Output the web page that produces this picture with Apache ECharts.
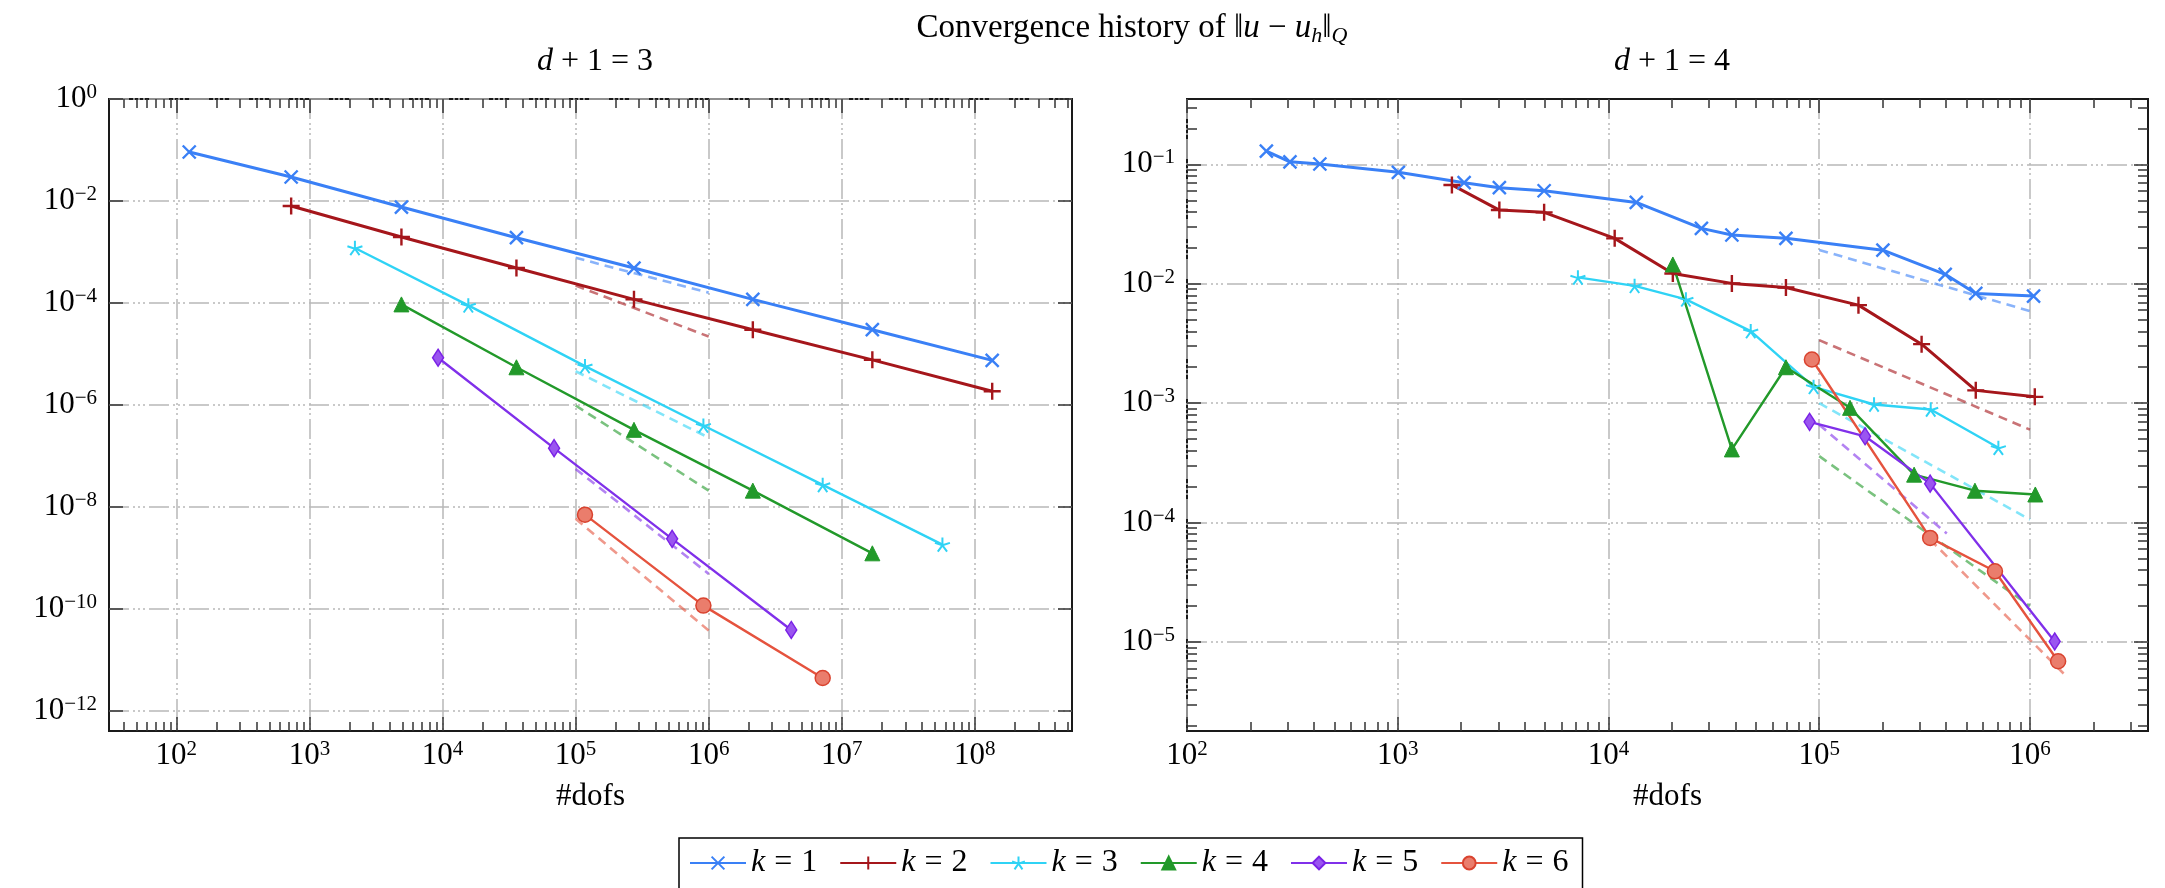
<!DOCTYPE html>
<html><head><meta charset="utf-8">
<script src="https://cdn.jsdelivr.net/npm/echarts@6/dist/echarts.min.js"></script>
<style>html,body{margin:0;padding:0;background:#fff}#c{width:2165px;height:888px}</style>
</head><body><div id="c"></div>
<script>
// ---------- data: d+1 = 3 (left panel) ----------
const dofs3_k1 = [125, 729, 4913, 35937, 274625, 2146689, 16974593, 135005697];
const err3_k1  = [0.0914, 0.0296, 0.00762, 0.00191, 4.85e-4, 1.18e-4, 3.0e-5, 7.5e-6];
const dofs3_k2 = [729, 4913, 35937, 274625, 2146689, 16974593, 135005697];
const err3_k2  = [7.98e-3, 1.97e-3, 4.85e-4, 1.18e-4, 3.0e-5, 7.7e-6, 1.87e-6];
const dofs3_k3 = [2197, 15625, 117649, 912673, 7189057, 57066625];
const err3_k3  = [1.2e-3, 9.0e-5, 5.8e-6, 3.97e-7, 2.72e-8, 1.84e-9];
const dofs3_k4 = [4913, 35937, 274625, 2146689, 16974593];
const err3_k4  = [9.4e-5, 5.5e-6, 3.27e-7, 2.1e-8, 1.24e-9];
const dofs3_k5 = [9261, 68921, 531441, 4173281];
const err3_k5  = [8.45e-6, 1.43e-7, 2.38e-9, 3.9e-11];
const dofs3_k6 = [117649, 912673, 7189057];
const err3_k6  = [7.1e-9, 1.17e-10, 4.45e-12];
// reference-rate (dashed) lines, left panel
const refX3    = [1e5, 1e6];
const ref3_k1  = [7.7e-4, 1.6e-4];
const ref3_k2  = [2.2e-4, 2.2e-5];
const ref3_k3  = [4.6e-6, 2.3e-7];
const ref3_k4  = [9.8e-7, 2.1e-8];
const ref3_k5  = [5.6e-8, 4.9e-10];
const ref3_k6  = [5.9e-9, 3.8e-11];

// ---------- data: d+1 = 4 (right panel) ----------
const dofs4_k1 = [238, 308, 427, 1007, 2065, 3035, 4950, 13550, 27600, 38500, 69500, 200500, 396000, 553000, 1040000];
const err4_k1  = [0.129, 0.105, 0.1006, 0.0857, 0.0702, 0.0637, 0.0601, 0.048, 0.0291, 0.0256, 0.024, 0.0191, 0.012, 0.0083, 0.00788];
const dofs4_k2 = [1807, 3035, 4950, 10700, 20200, 38500, 69500, 153500, 306000, 553000, 1054000];
const err4_k2  = [0.0672, 0.0414, 0.0396, 0.024, 0.0122, 0.01007, 0.0093, 0.00662, 0.00312, 0.00128, 0.00113];
const dofs4_k3 = [7160, 13300, 23300, 47300, 94000, 182000, 338000, 708000];
const err4_k3  = [0.0113, 0.0096, 0.0074, 0.00401, 0.00137, 9.75e-4, 8.86e-4, 4.23e-4];
const dofs4_k4 = [20200, 38500, 69500, 140000, 282000, 548000, 1060000];
const err4_k4  = [0.0145, 4.1e-4, 2.0e-3, 9.14e-4, 2.52e-4, 1.85e-4, 1.72e-4];
const dofs4_k5 = [90000, 165000, 336000, 1310000];
const err4_k5  = [6.98e-4, 5.28e-4, 2.12e-4, 1.01e-5];
const dofs4_k6 = [92300, 336000, 682000, 1360000];
const err4_k6  = [2.32e-3, 7.44e-5, 3.91e-5, 6.9e-6];
// reference-rate (dashed) lines, right panel
const refX4_k1 = [1e5, 1e6];      const ref4_k1 = [0.0192, 0.0059];
const refX4_k2 = [1e5, 1e6];      const ref4_k2 = [0.00337, 6.0e-4];
const refX4_k3 = [1e5, 1e6];      const ref4_k3 = [1.0e-3, 1.06e-4];
const refX4_k4 = [1e5, 1e6];      const ref4_k4 = [3.6e-4, 2.0e-5];
const refX4_k5 = [1e5, 4.03e5];   const ref4_k5 = [6.6e-4, 8.1e-5];
const refX4_k6 = [3.36e5, 1.49e6];const ref4_k6 = [7.2e-5, 5.15e-6];

// ---------- labels ----------
const legendNames = ['k = 1', 'k = 2', 'k = 3', 'k = 4', 'k = 5', 'k = 6'];
const titleText = 'Convergence history of ‖u − u_h‖_Q';
const panelTitles = ['d + 1 = 3', 'd + 1 = 4'];
const xAxisName = '#dofs';

// ---------- styling ----------
const FONT = 'Liberation Serif, DejaVu Serif, serif';
const X_PATH = 'path://M0,0L10,10M10,0L0,10';
const PLUS_PATH = 'path://M5,0L5,10M0,5L10,5';
const STAR_PATH = 'path://M5,5L5,0M5,5L9.755,3.455M5,5L7.939,9.045M5,5L2.061,9.045M5,5L0.245,3.455';
const styles = [
  {color:'#3a80f6', symbol:X_PATH,    size:13,      width:3.0, fill:'#3a80f6', border:'#3a80f6', bw:2.4},
  {color:'#a5161b', symbol:PLUS_PATH, size:17,      width:3.0, fill:'#a5161b', border:'#a5161b', bw:2.4},
  {color:'#2fd3f5', symbol:STAR_PATH, size:15,      width:2.4, fill:'#2fd3f5', border:'#2fd3f5', bw:2.0},
  {color:'#22992a', symbol:'triangle',size:15,      width:2.4, fill:'#22992a', border:'#22992a', bw:1},
  {color:'#8030ea', symbol:'diamond', size:[11,17], width:2.4, fill:'#9a55f0', border:'#7a22e6', bw:1.5},
  {color:'#e5533e', symbol:'circle',  size:15,      width:2.4, fill:'#ea7d6c', border:'#d9432f', bw:1.5}
];

// axis extents (log10 exponents)
const X3 = [1.494, 8.73], Y3 = [-12.39, 0];
const X4 = [2.0, 6.56],   Y4 = [-5.745, -0.453];

function majors(lo, hi, step) { const o=[]; for (let v=Math.ceil(lo/step)*step; v<=hi+1e-9; v+=step) o.push(v); return o; }
function minors(lo, hi) { const o=[]; for (let d=Math.floor(lo); d<=Math.ceil(hi); d++) for (let m=2; m<=9; m++){ const v=d+Math.log10(m); if (v>lo && v<hi) o.push(v);} return o; }

const gridLine = {color:'#b8b8b8', width:1.5, type:[20,4,2,3,2,3,2,4]};
const tickLine = {color:'#333', width:1.5};
const richLab = {
  b:{fontFamily:FONT, fontSize:31, lineHeight:34, color:'#000', fontWeight:'normal'},
  s:{fontFamily:FONT, fontSize:21, verticalAlign:'top', color:'#000', fontWeight:'normal'}
};
function fmtPow(v){ const n=Math.round(v); const s = n<0 ? '−'+(-n) : ''+n; return '{b|10}{s|'+s+'}'; }

function mainX(gi, ext, step){
  const maj = majors(ext[0], ext[1], step);
  return {type:'value', gridIndex:gi, position:'bottom', min:ext[0], max:ext[1],
    axisLine:{show:false, onZero:false},
    axisTick:{show:true, inside:true, length:14, customValues:maj, lineStyle:tickLine},
    axisLabel:{show:true, customValues:maj, formatter:fmtPow, rich:richLab, margin:8, fontFamily:FONT},
    splitLine:{show:true, lineStyle:gridLine},
    name:xAxisName, nameLocation:'middle', nameGap:50,
    nameTextStyle:{fontFamily:FONT, fontSize:31, color:'#000', fontWeight:'normal'}};
}
function tickAxisX(gi, ext, pos, vals, len){
  return {type:'value', gridIndex:gi, position:pos, min:ext[0], max:ext[1],
    axisLine:{show:false, onZero:false},
    axisTick:{show:true, inside:true, length:len, customValues:vals, lineStyle:tickLine},
    axisLabel:{show:false}, splitLine:{show:false}};
}
function mainY(gi, ext, step){
  const maj = majors(ext[0], ext[1], step);
  return {type:'value', gridIndex:gi, position:'left', min:ext[0], max:ext[1],
    axisLine:{show:false, onZero:false},
    axisTick:{show:true, inside:true, length:14, customValues:maj, lineStyle:tickLine},
    axisLabel:{show:true, customValues:maj, formatter:fmtPow, rich:richLab, margin:12, fontFamily:FONT},
    splitLine:{show:true, lineStyle:gridLine}};
}
function tickAxisY(gi, ext, pos, vals, len){
  return {type:'value', gridIndex:gi, position:pos, min:ext[0], max:ext[1],
    axisLine:{show:false, onZero:false},
    axisTick:{show:true, inside:true, length:len, customValues:vals, lineStyle:tickLine},
    axisLabel:{show:false}, splitLine:{show:false}};
}

const xAxes = [
  mainX(0, X3, 1),
  tickAxisX(0, X3, 'bottom', minors(X3[0], X3[1]), 9),
  tickAxisX(0, X3, 'top', majors(X3[0], X3[1], 1), 14),
  tickAxisX(0, X3, 'top', minors(X3[0], X3[1]), 9),
  mainX(1, X4, 1),
  tickAxisX(1, X4, 'bottom', minors(X4[0], X4[1]), 9),
  tickAxisX(1, X4, 'top', majors(X4[0], X4[1], 1), 14),
  tickAxisX(1, X4, 'top', minors(X4[0], X4[1]), 9)
];
const yAxes = [
  mainY(0, Y3, 2),
  tickAxisY(0, Y3, 'right', majors(Y3[0], Y3[1], 2), 14),
  mainY(1, Y4, 1),
  tickAxisY(1, Y4, 'left', minors(Y4[0], Y4[1]), 10),
  tickAxisY(1, Y4, 'right', majors(Y4[0], Y4[1], 1), 14),
  tickAxisY(1, Y4, 'right', minors(Y4[0], Y4[1]), 10)
];

function toLog(xs, ys){ return xs.map((x,i)=>[Math.log10(x), Math.log10(ys[i])]); }
function solid(k, panel, xs, ys){
  const st = styles[k-1];
  return {type:'line', name:legendNames[k-1], xAxisIndex: panel===0?0:4, yAxisIndex: panel===0?0:2,
    data: toLog(xs, ys), symbol: st.symbol, symbolSize: st.size, symbolKeepAspect:true,
    lineStyle:{color:st.color, width:st.width}, itemStyle:{color:st.fill, borderColor:st.border, borderWidth:st.bw},
    z:3, silent:true};
}
function dashed(k, panel, xs, ys){
  const st = styles[k-1];
  return {type:'line', name:'rate '+k+(panel===0?'a':'b'), xAxisIndex: panel===0?0:4, yAxisIndex: panel===0?0:2,
    data: toLog(xs, ys), symbol:'none',
    lineStyle:{color:st.color, width:2.6, type:[9,6], opacity:0.6}, z:2, silent:true};
}

const series = [
  solid(1,0,dofs3_k1,err3_k1), solid(2,0,dofs3_k2,err3_k2), solid(3,0,dofs3_k3,err3_k3),
  solid(4,0,dofs3_k4,err3_k4), solid(5,0,dofs3_k5,err3_k5), solid(6,0,dofs3_k6,err3_k6),
  dashed(1,0,refX3,ref3_k1), dashed(2,0,refX3,ref3_k2), dashed(3,0,refX3,ref3_k3),
  dashed(4,0,refX3,ref3_k4), dashed(5,0,refX3,ref3_k5), dashed(6,0,refX3,ref3_k6),
  solid(1,1,dofs4_k1,err4_k1), solid(2,1,dofs4_k2,err4_k2), solid(3,1,dofs4_k3,err4_k3),
  solid(4,1,dofs4_k4,err4_k4), solid(5,1,dofs4_k5,err4_k5), solid(6,1,dofs4_k6,err4_k6),
  dashed(1,1,refX4_k1,ref4_k1), dashed(2,1,refX4_k2,ref4_k2), dashed(3,1,refX4_k3,ref4_k3),
  dashed(4,1,refX4_k4,ref4_k4), dashed(5,1,refX4_k5,ref4_k5), dashed(6,1,refX4_k6,ref4_k6)
];

const tRich = {
  n:{fontFamily:FONT, fontSize:33, lineHeight:38, color:'#000', fontWeight:'normal'},
  i:{fontFamily:FONT, fontSize:33, lineHeight:38, fontStyle:'italic', color:'#000', fontWeight:'normal'},
  sub:{fontFamily:FONT, fontSize:22, fontStyle:'italic', verticalAlign:'bottom', color:'#000', fontWeight:'normal'}
};
const pRich = {
  n:{fontFamily:FONT, fontSize:32, lineHeight:38, color:'#000', fontWeight:'normal'},
  i:{fontFamily:FONT, fontSize:32, lineHeight:38, fontStyle:'italic', color:'#000', fontWeight:'normal'}
};
function richTitle(t){
  // 'Convergence history of ‖u − u_h‖_Q'
  return '{n|Convergence history of ‖}{i|u}{n| − }{i|u}{sub|h}{n|‖}{sub|Q}';
}
function richPanel(t){ return '{i|d}{n|' + t.slice(1) + '}'; }
const tStyle = {rich:tRich, fontWeight:'normal', fontFamily:FONT, fontSize:33, color:'#000'};
const pStyle = {rich:pRich, fontWeight:'normal', fontFamily:FONT, fontSize:32, color:'#000'};

const option = {
  animation:false,
  backgroundColor:'#fff',
  title:[
    {text: richTitle(titleText), left:1127, top:4, textAlign:'center', textStyle:tStyle},
    {text: richPanel(panelTitles[0]), left:590, top:38, textAlign:'center', textStyle:pStyle},
    {text: richPanel(panelTitles[1]), left:1667, top:38, textAlign:'center', textStyle:pStyle}
  ],
  grid:[
    {left:109, top:99, width:963, height:632, show:true, borderColor:'#1a1a1a', borderWidth:2, backgroundColor:'transparent'},
    {left:1187, top:99, width:961, height:632, show:true, borderColor:'#1a1a1a', borderWidth:2, backgroundColor:'transparent'}
  ],
  xAxis:xAxes,
  yAxis:yAxes,
  legend:{
    data:legendNames, left:679, top:838, orient:'horizontal',
    itemWidth:56, itemHeight:16, itemGap:22,
    borderColor:'#000', borderWidth:1.5, padding:[9,14,40,10],
    formatter: name => '{i|k}{e|=}{n|' + name.slice(-1) + '}',
    textStyle:{fontFamily:FONT, fontSize:32, color:'#000', fontWeight:'normal', rich:{
      i:{fontFamily:FONT, fontSize:32, lineHeight:36, fontStyle:'italic', color:'#000'},
      e:{fontFamily:FONT, fontSize:32, lineHeight:36, color:'#000', padding:[0,9,0,9]},
      n:{fontFamily:FONT, fontSize:32, lineHeight:36, color:'#000'}
    }}
  },
  series:series
};
echarts.init(document.getElementById('c')).setOption(option);
</script>
</body></html>
